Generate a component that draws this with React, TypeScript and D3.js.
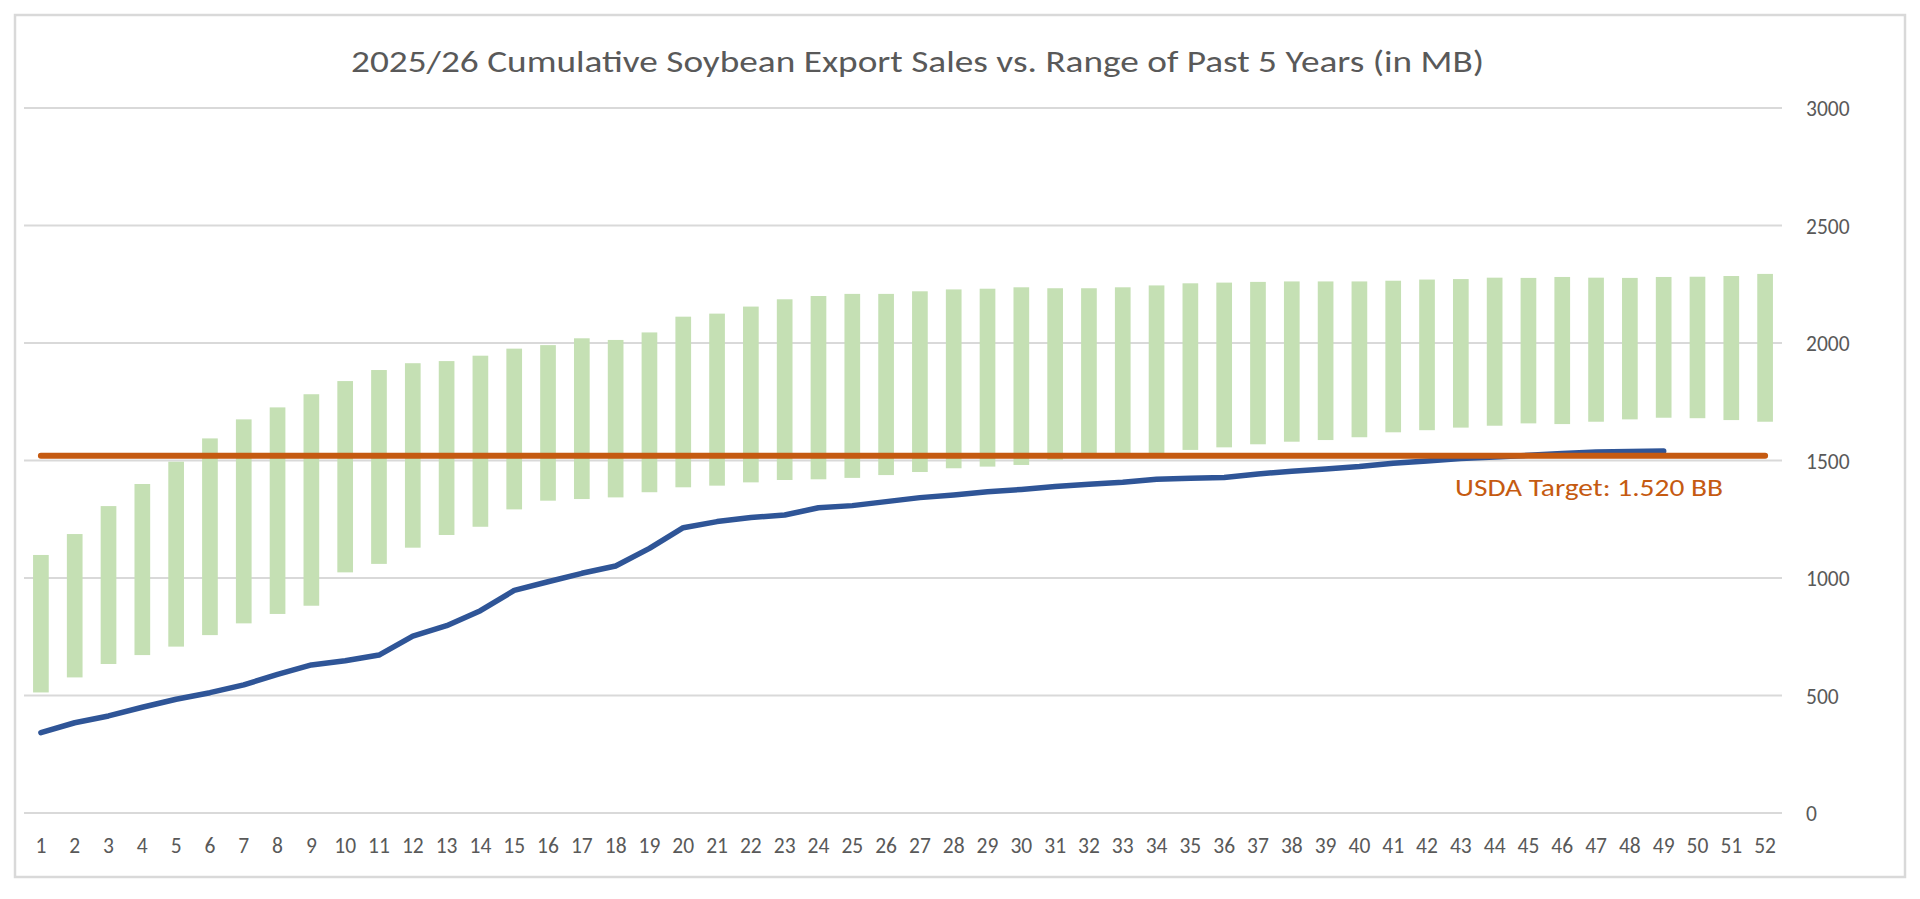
import React from "react";
import * as d3 from "d3";

const W = 1920;
const H = 899;

const titleText = "2025/26 Cumulative Soybean Export Sales vs. Range of Past 5 Years (in MB)";
const weeks = Array.from({ length: 52 }, (_, i) => String(i + 1));
const yTicks = [0, 500, 1000, 1500, 2000, 2500, 3000];

const rangeLow = [
  513, 577, 634, 672, 708, 757, 807, 847, 882, 1024, 1060, 1129, 1183, 1218, 1292, 1329, 1336, 1343,
  1365, 1386, 1393, 1407, 1417, 1420, 1426, 1438, 1451, 1467, 1474, 1481, 1503, 1515, 1522, 1532,
  1545, 1556, 1569, 1580, 1587, 1599, 1620, 1629, 1640, 1648, 1658, 1655, 1665, 1675, 1682, 1680,
  1672, 1665,
];
const rangeHigh = [
  1098, 1187, 1306, 1400, 1495, 1594, 1675, 1726, 1782, 1838, 1885, 1914, 1923, 1946, 1976, 1991,
  2020, 2013, 2045, 2112, 2125, 2155, 2186, 2200, 2209, 2209, 2220, 2228, 2231, 2237, 2233, 2233,
  2237, 2245, 2254, 2257, 2260, 2262, 2262, 2262, 2265, 2270, 2272, 2278, 2277, 2281, 2278, 2277,
  2281, 2282, 2285, 2294,
];
const sales2526 = [
  342, 384, 413, 450, 484, 512, 545, 590, 630, 648, 672, 753, 797, 861, 947, 984, 1020, 1051, 1126,
  1214, 1240, 1257, 1268, 1299, 1308, 1325, 1342, 1353, 1367, 1377, 1389, 1399, 1407, 1420, 1424,
  1428, 1443, 1454, 1464, 1474, 1488, 1498, 1508, 1515, 1522, 1530, 1536, 1538, 1540,
];
const usdaTarget = 1520;
const targetLabel = "USDA Target: 1.520 BB";

const FONT = "Carlito, Calibri, 'Open Sans', sans-serif";
const TEXT = "#595959";
const GRID = "#D9D9D9";
const GREEN = "#C5E0B4";
const BLUE = "#2F5597";
const ORANGE = "#C55A11";

export default function App() {
  const plotLeft = 24;
  const plotRight = 1782;
  const plotTop = 108;
  const plotBottom = 813;

  const x = d3
    .scaleBand<string>()
    .domain(weeks)
    .range([plotLeft, plotRight])
    .paddingInner(0.536)
    .paddingOuter(0.268);
  const y = d3.scaleLinear().domain([0, 3000]).range([plotBottom, plotTop]);
  const cx = (w: string) => (x(w) as number) + x.bandwidth() / 2;

  const salesLine = d3
    .line<number>()
    .x((_, i) => cx(weeks[i]))
    .y((d) => y(d))(sales2526) as string;

  const targetEnds = [weeks[0], weeks[weeks.length - 1]];
  const targetLine = d3
    .line<string>()
    .x((w) => cx(w))
    .y(() => y(usdaTarget))(targetEnds) as string;

  return (
    <svg
      width={W}
      height={H}
      style={{ position: "absolute", left: 0, top: 0, background: "#fff" }}
      fontFamily={FONT}
    >
      <rect x={0} y={0} width={W} height={H} fill="#fff" />
      <rect x={15} y={15} width={1890} height={862} fill="#fff" stroke={GRID} strokeWidth={2.5} />

      <text
        x={351}
        y={72}
        fontSize={31}
        fill={TEXT}
        textLength={1133}
        lengthAdjust="spacingAndGlyphs"
      >
        {titleText}
      </text>

      {yTicks.map((t) => (
        <g key={t}>
          <line x1={plotLeft} x2={plotRight} y1={y(t)} y2={y(t)} stroke={GRID} strokeWidth={2} />
          <text x={1806} y={y(t) + 8} fontSize={21.5} fill={TEXT}>
            {t}
          </text>
        </g>
      ))}

      {weeks.map((w, i) => (
        <rect
          key={w}
          x={x(w)}
          y={y(rangeHigh[i])}
          width={x.bandwidth()}
          height={y(rangeLow[i]) - y(rangeHigh[i])}
          fill={GREEN}
        />
      ))}

      <path
        d={salesLine}
        fill="none"
        stroke={BLUE}
        strokeWidth={5.5}
        strokeLinejoin="round"
        strokeLinecap="round"
      />
      <path d={targetLine} fill="none" stroke={ORANGE} strokeWidth={6} strokeLinecap="round" />

      <text
        x={1455}
        y={496}
        fontSize={24.5}
        fill={ORANGE}
        textLength={268}
        lengthAdjust="spacingAndGlyphs"
      >
        {targetLabel}
      </text>

      {weeks.map((w) => (
        <text key={w} x={cx(w)} y={853} fontSize={21.5} fill={TEXT} textAnchor="middle">
          {w}
        </text>
      ))}
    </svg>
  );
}
